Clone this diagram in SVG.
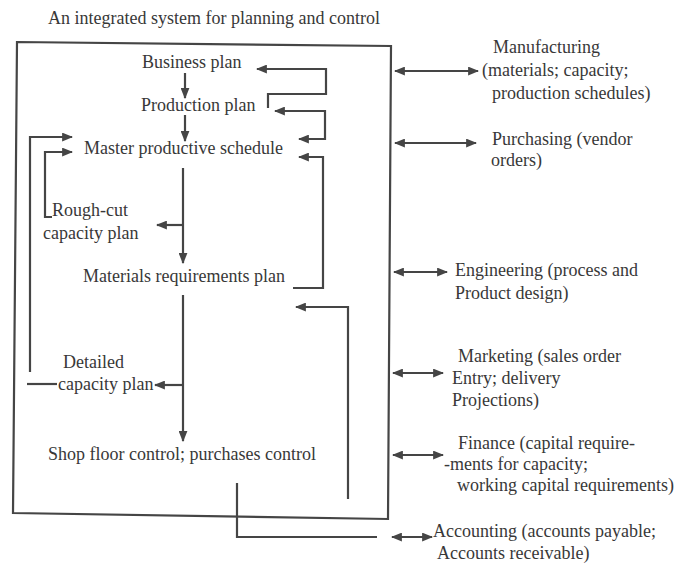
<svg xmlns="http://www.w3.org/2000/svg" width="674" height="565" viewBox="0 0 674 565">
<style>
text{font-family:"Liberation Serif","Times New Roman",serif;font-size:18px;fill:#383838}
.ln{fill:none;stroke:#454545;stroke-width:2.2}
.a{marker-end:url(#ah)}
.d{marker-start:url(#ah);marker-end:url(#ah)}
</style>
<defs>
<marker id="ah" viewBox="0 0 10 8" refX="9" refY="4" markerWidth="11" markerHeight="9" markerUnits="userSpaceOnUse" orient="auto-start-reverse">
<path d="M0,0 L10,4 L0,8 z" fill="#454545"/>
</marker>
</defs>
<rect width="674" height="565" fill="#fff"/>
<g id="title"><text x="48" y="24">An integrated system for planning and control</text></g>
<g id="system-box"><path class="ln" d="M17,42 L391,46 L388,519 L13,513 Z"/></g>
<g id="business-plan"><text x="142" y="68">Business plan</text></g>
<g id="production-plan"><text x="141" y="111">Production plan</text></g>
<g id="master-schedule"><text x="84" y="154">Master productive schedule</text></g>
<g id="rough-cut"><text x="52" y="216">Rough-cut</text><text x="43" y="239">capacity plan</text></g>
<g id="mrp"><text x="83" y="282">Materials requirements plan</text></g>
<g id="detailed"><text x="63" y="368">Detailed</text><text x="58" y="390">capacity plan</text></g>
<g id="shop-floor"><text x="48" y="460">Shop floor control; purchases control</text></g>
<g id="manufacturing"><text x="493" y="53">Manufacturing</text><text x="482" y="76">(materials; capacity;</text><text x="492" y="99">production schedules)</text></g>
<g id="purchasing"><text x="492" y="145">Purchasing (vendor</text><text x="491" y="166">orders)</text></g>
<g id="engineering"><text x="455" y="276">Engineering (process and</text><text x="455" y="299">Product design)</text></g>
<g id="marketing"><text x="458" y="362">Marketing (sales order</text><text x="452" y="384">Entry; delivery</text><text x="452" y="406">Projections)</text></g>
<g id="finance"><text x="458" y="449">Finance (capital require-</text><text x="444" y="470">-ments for capacity;</text><text x="457" y="491">working capital requirements)</text></g>
<g id="accounting"><text x="433" y="537">Accounting (accounts payable;</text><text x="437" y="559">Accounts receivable)</text></g>
<g id="connectors">
<path class="ln a" d="M185,73 V98"/>
<path class="ln a" d="M185,115 V141"/>
<path class="ln a" d="M183,168 V263"/>
<path class="ln a" d="M183,225 H157"/>
<path class="ln a" d="M183,295 V441"/>
<path class="ln a" d="M183,385 H155"/>
<path class="ln a" d="M268,108 V94 H326 V69 H257"/>
<path class="ln d" d="M275,111 H325 V139 H299"/>
<path class="ln a" d="M293,288 H323 V157 H299"/>
<path class="ln a" d="M348,499 V307 H296"/>
<path class="ln a" d="M52,217 H45 V152 H72"/>
<path class="ln a" d="M30,372 V137 H72"/>
<path class="ln" d="M27,384 H57"/>
<path class="ln" d="M237,483 V537 H377"/>
<path class="ln d" d="M395,71 H478"/>
<path class="ln d" d="M395,143 H476"/>
<path class="ln d" d="M394,272 H447"/>
<path class="ln d" d="M393,373 H443"/>
<path class="ln d" d="M393,455 H443"/>
<path class="ln d" d="M392,537 H432"/>
</g>
</svg>
